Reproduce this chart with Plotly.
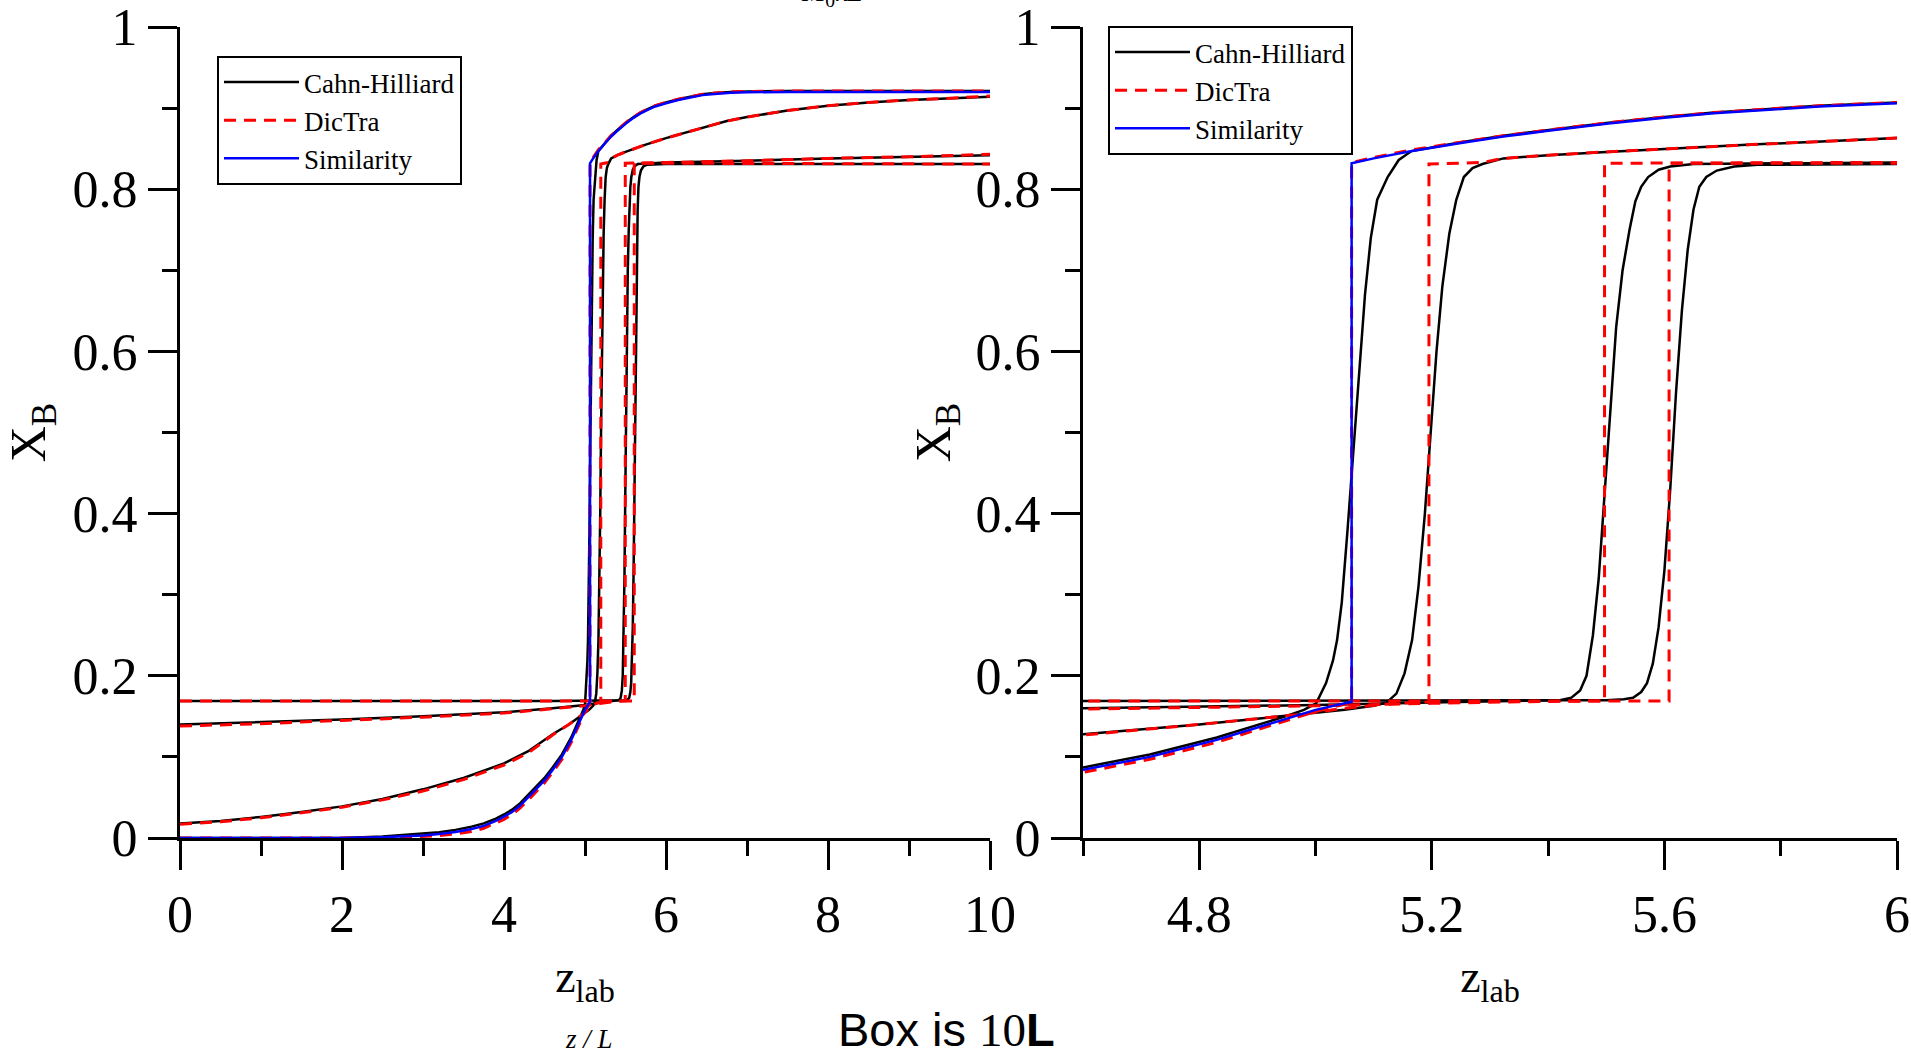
import plotly.graph_objects as go

# ---------------- data ----------------
# Curve 1: initial step profile
ch1_x = [0, 4.6, 5.50, 5.53, 5.546, 5.56, 5.57, 5.58, 5.59, 5.60, 5.61, 5.62, 5.63, 5.64, 5.65,
         5.66, 5.672, 5.69, 5.72, 5.76, 6.0, 10]
ch1_y = [0.169, 0.169, 0.170, 0.171, 0.173, 0.180, 0.191, 0.215, 0.26, 0.33, 0.43, 0.55, 0.65, 0.725,
         0.775, 0.803, 0.815, 0.823, 0.828, 0.830, 0.831, 0.831]
dt1_x = [0, 5.608, 5.608, 6.0, 10]
dt1_y = [0.169, 0.169, 0.832, 0.832, 0.831]

# Curve 2
ch2_x = [0, 1, 2, 3, 4, 4.6, 5.0, 5.2, 5.35, 5.42, 5.44, 5.455, 5.466, 5.477, 5.487, 5.497, 5.507,
         5.517, 5.528, 5.54, 5.55, 5.56, 5.572, 5.59, 5.61, 5.65, 6.0, 7, 8, 9, 10]
ch2_y = [0.140, 0.143, 0.146, 0.150, 0.155, 0.160, 0.164, 0.167, 0.169, 0.170, 0.173, 0.182, 0.200,
         0.25, 0.32, 0.42, 0.53, 0.63, 0.70, 0.75, 0.785, 0.803, 0.815, 0.824, 0.828, 0.831, 0.833,
         0.835, 0.838, 0.840, 0.842]
dt2_x = [0, 1, 2, 3, 4, 4.6, 5.0, 5.2, 5.35, 5.497, 5.497, 6.0, 7, 8, 9, 10]
dt2_y = [0.138, 0.141, 0.145, 0.149, 0.154, 0.159, 0.163, 0.166, 0.168, 0.169, 0.832, 0.833, 0.835,
         0.838, 0.840, 0.843]

# Curve 3
ch3_x = [0, 0.5, 1, 1.5, 2, 2.5, 3, 3.5, 4, 4.3, 4.6, 4.8, 4.967, 5.05, 5.10, 5.122, 5.139, 5.153,
         5.166, 5.177, 5.188, 5.198, 5.208, 5.218, 5.23, 5.242, 5.255, 5.27, 5.287, 5.323, 5.4,
         5.5, 5.75, 6.0, 6.25, 6.5, 6.75, 7.0, 7.5, 8.0, 8.5, 9.0, 9.5, 10]
ch3_y = [0.018, 0.021, 0.026, 0.032, 0.039, 0.048, 0.060, 0.074, 0.092, 0.107, 0.128, 0.140, 0.152,
         0.158, 0.163, 0.167, 0.178, 0.203, 0.244, 0.31, 0.40, 0.50, 0.60, 0.68, 0.745, 0.787, 0.815,
         0.826, 0.831, 0.838, 0.842, 0.846, 0.855, 0.863, 0.870, 0.877, 0.884, 0.889, 0.897, 0.903,
         0.907, 0.910, 0.912, 0.914]
dt3_x = [0, 0.5, 1, 1.5, 2, 2.5, 3, 3.5, 4, 4.3, 4.6, 4.8, 4.967, 5.05, 5.12, 5.195, 5.195, 5.287,
         5.323, 5.4, 5.5, 5.75, 6.0, 6.25, 6.5, 6.75, 7.0, 7.5, 8.0, 8.5, 9.0, 9.5, 10]
dt3_y = [0.017, 0.020, 0.025, 0.031, 0.038, 0.047, 0.058, 0.072, 0.090, 0.105, 0.127, 0.140, 0.152,
         0.160, 0.165, 0.168, 0.831, 0.833, 0.838, 0.842, 0.846, 0.855, 0.863, 0.870, 0.877, 0.884,
         0.889, 0.897, 0.903, 0.907, 0.910, 0.912, 0.915]

# Curve 4 (similarity time)
ch4_x = [0, 2, 2.5, 2.8, 3.0, 3.2, 3.4, 3.6, 3.75, 3.9, 4.0, 4.1, 4.2, 4.3, 4.4, 4.5, 4.6, 4.715,
         4.83, 4.944, 4.98, 5.001, 5.018, 5.03, 5.037, 5.045, 5.055, 5.065, 5.075, 5.085, 5.095,
         5.106, 5.124, 5.143, 5.165, 5.25, 5.323, 5.4, 5.504, 5.6, 5.685, 5.78, 5.866, 6.0, 6.15,
         6.3, 6.45, 6.6, 6.8, 7.0, 7.5, 10]
ch4_y = [0.0, 0.0, 0.002, 0.004, 0.005, 0.007, 0.010, 0.014, 0.018, 0.024, 0.029, 0.035, 0.043,
         0.053, 0.063, 0.074, 0.087, 0.103, 0.124, 0.149, 0.158, 0.166, 0.191, 0.219, 0.244, 0.29,
         0.38, 0.48, 0.58, 0.67, 0.74, 0.787, 0.815, 0.836, 0.847, 0.858, 0.866, 0.873, 0.882,
         0.889, 0.8945, 0.899, 0.903, 0.907, 0.911, 0.914, 0.917, 0.9185, 0.920, 0.9205, 0.921, 0.921]
dt4_x = [0, 2, 2.5, 2.8, 3.0, 3.2, 3.4, 3.6, 3.75, 3.9, 4.0, 4.1, 4.2, 4.3, 4.4, 4.5, 4.6, 4.715,
         4.83, 4.94, 5.0, 5.062, 5.062, 5.1, 5.161, 5.25, 5.323, 5.4, 5.504, 5.6, 5.685, 5.78,
         5.866, 6.0, 6.15, 6.3, 6.45, 6.6, 6.8, 7.0, 7.5, 10]
dt4_y = [0.0, 0.0, 0.0, 0.001, 0.002, 0.003, 0.005, 0.008, 0.012, 0.018, 0.023, 0.029, 0.037,
         0.047, 0.057, 0.068, 0.081, 0.097, 0.118, 0.143, 0.156, 0.167, 0.833, 0.839, 0.848, 0.858,
         0.866, 0.873, 0.882, 0.889, 0.8945, 0.899, 0.903, 0.907, 0.911, 0.914, 0.917, 0.9185,
         0.920, 0.9205, 0.921, 0.921]
sim_x = [0, 1, 2, 2.5, 2.8, 3.0, 3.2, 3.4, 3.6, 3.75, 3.9, 4.0, 4.1, 4.2, 4.3, 4.4, 4.5, 4.6, 4.715,
         4.83, 4.94, 5.0, 5.062, 5.062, 5.1, 5.161, 5.25, 5.323, 5.4, 5.504, 5.6, 5.685, 5.78,
         5.866, 6.0, 6.15, 6.3, 6.45, 6.6, 6.8, 7.0, 7.5, 10]
sim_y = [0.0, 0.0, 0.0, 0.001, 0.002, 0.003, 0.005, 0.0075, 0.011, 0.015, 0.021, 0.026, 0.032,
         0.040, 0.050, 0.060, 0.071, 0.084, 0.100, 0.121, 0.1455, 0.158, 0.168, 0.832, 0.838,
         0.8465, 0.857, 0.865, 0.872, 0.881, 0.888, 0.8935, 0.898, 0.902, 0.906, 0.910, 0.913,
         0.916, 0.9175, 0.919, 0.9195, 0.920, 0.920]

series_names = ["Cahn-Hilliard", "DicTra", "Similarity"]
y_tickvals = [0, 0.2, 0.4, 0.6, 0.8, 1]
y_ticktext = ["0", "0.2", "0.4", "0.6", "0.8", "1"]
y_minorvals = [0.1, 0.3, 0.5, 0.7, 0.9]
x1_tickvals = [0, 2, 4, 6, 8, 10]
x1_ticktext = ["0", "2", "4", "6", "8", "10"]
x1_minorvals = [1, 3, 5, 7, 9]
x2_tickvals = [4.8, 5.2, 5.6, 6.0]
x2_ticktext = ["4.8", "5.2", "5.6", "6"]
x2_minorvals = [4.6, 5.0, 5.4, 5.8]

# ---------------- figure ----------------
W, H = 1911, 1056
L, R, T, B = 180, 14, 27, 218
pw = W - L - R
ph = H - T - B

fig = go.Figure()

ch_sets = [(ch1_x, ch1_y), (ch2_x, ch2_y), (ch3_x, ch3_y), (ch4_x, ch4_y)]
dt_sets = [(dt1_x, dt1_y), (dt2_x, dt2_y), (dt3_x, dt3_y), (dt4_x, dt4_y)]

BLACK = dict(color="black", width=2.5)
RED = dict(color="#ff0000", width=3, dash="12px,8px")
BLUE = dict(color="#0000ff", width=2.5)

for ax_x, ax_y, leg in [("x", "y", "legend"), ("x2", "y2", "legend2")]:
    for i, (xs, ys) in enumerate(ch_sets):
        fig.add_trace(go.Scatter(x=xs, y=ys, mode="lines", line=BLACK, name=series_names[0],
                                 legendgroup="ch", showlegend=(i == 0), legend=leg,
                                 xaxis=ax_x, yaxis=ax_y, hoverinfo="skip"))
    for i, (xs, ys) in enumerate(dt_sets):
        fig.add_trace(go.Scatter(x=xs, y=ys, mode="lines", line=RED, name=series_names[1],
                                 legendgroup="dt", showlegend=(i == 0), legend=leg,
                                 xaxis=ax_x, yaxis=ax_y, hoverinfo="skip"))
    fig.add_trace(go.Scatter(x=sim_x, y=sim_y, mode="lines", line=BLUE, name=series_names[2],
                             legendgroup="sim", showlegend=True, legend=leg,
                             xaxis=ax_x, yaxis=ax_y, hoverinfo="skip"))

SERIF = "Liberation Serif, Times New Roman, serif"
tickfont = dict(family=SERIF, size=52, color="black")

def axis_common():
    return dict(showline=True, linecolor="black", linewidth=3, ticks="outside", ticklen=29,
                tickwidth=2.5, tickcolor="black", showgrid=False, zeroline=False,
                tickfont=tickfont, fixedrange=True, ticklabeloverflow="allow")

def minor(vals):
    return dict(tickmode="array", tickvals=vals, ticks="outside", ticklen=15,
                tickwidth=2.5, tickcolor="black", showgrid=False)

d1_end = (990 - L) / pw
d2_start = (1083 - L) / pw

xa1 = axis_common()
xa1.update(domain=[0, d1_end], range=[0, 10], anchor="y", tickmode="array",
           tickvals=x1_tickvals, ticktext=x1_ticktext, minor=minor(x1_minorvals),
           title=dict(text="z<sub>lab</sub>", font=dict(family=SERIF, size=46, color="black"),
                      standoff=18))
xa2 = axis_common()
xa2.update(domain=[d2_start, 1], range=[4.6, 6.0], anchor="y2", tickmode="array",
           tickvals=x2_tickvals, ticktext=x2_ticktext, minor=minor(x2_minorvals),
           title=dict(text="z<sub>lab</sub>", font=dict(family=SERIF, size=46, color="black"),
                      standoff=18))
ya1 = axis_common()
ya1.update(domain=[0, 1], range=[0, 1], anchor="x", tickmode="array",
           tickvals=y_tickvals, ticktext=y_ticktext, minor=minor(y_minorvals),
           title=dict(text="X<sub>B</sub>", font=dict(family=SERIF, size=50, color="black"),
                      standoff=18))
ya2 = axis_common()
ya2.update(domain=[0, 1], range=[0, 1], anchor="x2", tickmode="array",
           tickvals=y_tickvals, ticktext=y_ticktext, minor=minor(y_minorvals),
           title=dict(text="X<sub>B</sub>", font=dict(family=SERIF, size=50, color="black"),
                      standoff=10))

def px_x(p):
    return (p - L) / pw

def px_y(p):
    return (H - B - p) / ph

legfont = dict(family=SERIF, size=27, color="black")
fig.update_layout(
    width=W, height=H,
    margin=dict(l=L, r=R, t=T, b=B, autoexpand=False),
    paper_bgcolor="white", plot_bgcolor="white",
    xaxis=xa1, yaxis=ya1, xaxis2=xa2, yaxis2=ya2,
    legend=dict(x=px_x(217), y=px_y(56), xanchor="left", yanchor="top", bordercolor="black",
                borderwidth=2, bgcolor="white", font=legfont, itemwidth=75, tracegroupgap=0),
    legend2=dict(x=px_x(1108), y=px_y(26), xanchor="left", yanchor="top", bordercolor="black",
                 borderwidth=2, bgcolor="white", font=legfont, itemwidth=75, tracegroupgap=0),
    annotations=[
        dict(text="Box is <span style='font-family:Liberation Serif'>10</span><b>L</b>",
             xref="paper", yref="paper", x=px_x(946), y=px_y(1029), xanchor="center",
             yanchor="middle", showarrow=False,
             font=dict(family="Liberation Sans, Arial, sans-serif", size=47, color="black")),
        dict(text="<i>z / L</i>", xref="paper", yref="paper", x=px_x(589), y=px_y(1039),
             xanchor="center", yanchor="middle", showarrow=False,
             font=dict(family=SERIF, size=27, color="black")),
        dict(text="<i>M</i><sub>0</sub><i>kL</i>", xref="paper", yref="paper", x=px_x(832),
             y=px_y(13), xanchor="center", yanchor="bottom", showarrow=False,
             font=dict(family=SERIF, size=28, color="black")),
    ],
    showlegend=True,
)

fig.write_html("out.html")
